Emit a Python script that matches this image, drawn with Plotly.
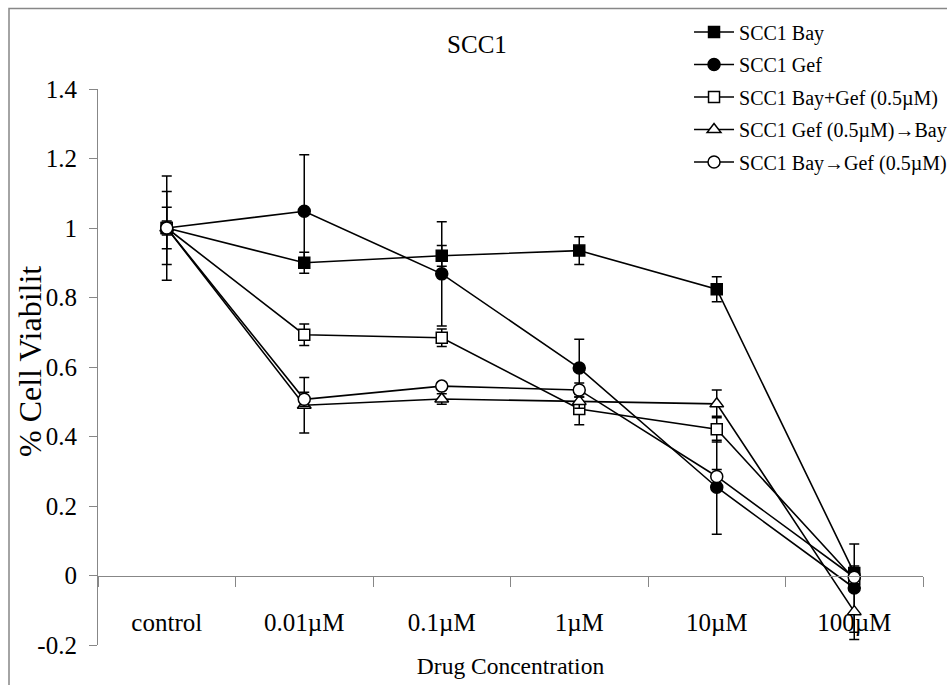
import plotly.graph_objects as go

categories = ["control", "0.01\u00b5M", "0.1\u00b5M", "1\u00b5M", "10\u00b5M", "100\u00b5M"]

names = [
    "SCC1 Bay",
    "SCC1 Gef",
    "SCC1 Bay+Gef (0.5\u00b5M)",
    "SCC1 Gef (0.5\u00b5M)\u2192Bay",
    "SCC1 Bay\u2192Gef (0.5\u00b5M)",
]

bay = [1.0, 0.900, 0.920, 0.935, 0.824, 0.007]
bay_err = [0.06, 0.03, 0.03, 0.04, 0.036, 0.02]

gef = [1.0, 1.048, 0.868, 0.597, 0.254, -0.036]
gef_err = [0.15, 0.163, 0.15, 0.083, 0.135, 0.127]

bay_gef = [1.0, 0.693, 0.684, 0.479, 0.421, -0.010]
bay_gef_err = [0.105, 0.031, 0.025, 0.045, 0.037, 0.02]

gef_then_bay = [1.0, 0.490, 0.508, 0.501, 0.494, -0.104]
gef_then_bay_err = [0.02, 0.08, 0.015, 0.02, 0.04, 0.08]

bay_then_gef = [1.0, 0.507, 0.545, 0.534, 0.285, -0.005]
bay_then_gef_err = [0.01, 0.02, 0.01, 0.02, 0.02, 0.02]

y_ticks = [-0.2, 0, 0.2, 0.4, 0.6, 0.8, 1, 1.2, 1.4]
y_ticktext = ["-0.2", "0", "0.2", "0.4", "0.6", "0.8", "1", "1.2", "1.4"]

series = [
    (bay, bay_err, "square", "black", 11),
    (gef, gef_err, "circle", "black", 12),
    (bay_gef, bay_gef_err, "square", "white", 11),
    (gef_then_bay, gef_then_bay_err, "triangle-up", "white", 12),
    (bay_then_gef, bay_then_gef_err, "circle", "white", 12),
]

FONT = "Liberation Serif, Times New Roman, serif"
GRAY = "#878787"

fig = go.Figure()
for i, (vals, errs, sym, fill, size) in enumerate(series):
    fig.add_trace(go.Scatter(
        x=categories, y=vals, name=names[i],
        mode="lines+markers",
        line=dict(color="black", width=1.6),
        marker=dict(symbol=sym, size=size, color=fill,
                    line=dict(color="black", width=1.5)),
        error_y=dict(type="data", array=errs, visible=True,
                     color="black", thickness=1.5, width=5),
        legendgroup=f"g{i}",
    ))

# The original figure's frame runs past the right edge of the 947 px view,
# so the canvas is a little wider than the window (the overflow is hidden).
fig.update_layout(
    width=990, height=685,
    margin=dict(l=98, r=67, t=89, b=40),
    paper_bgcolor="white", plot_bgcolor="white",
    font=dict(family=FONT, size=25, color="black"),
    showlegend=True,
    title=dict(text="SCC1", x=(477 - 98) / 825, xref="paper", xanchor="center",
               y=1 - 44 / 685, yref="container", yanchor="middle",
               font=dict(family=FONT, size=25, color="black")),
    legend=dict(x=0.7164, y=1.1376, xanchor="left", yanchor="top",
                bgcolor="rgba(0,0,0,0)", font=dict(family=FONT, size=20),
                traceorder="grouped", tracegroupgap=3.5, itemwidth=40),
    xaxis=dict(
        type="category", range=[-0.5, 5.5],
        anchor="free", position=0.125,
        showline=True, linecolor=GRAY, linewidth=1.2,
        ticks="outside", ticklen=10, tickcolor=GRAY, tickwidth=1.2,
        tickson="boundaries", showgrid=False, zeroline=False,
        ticklabelstandoff=24,
        tickfont=dict(family=FONT, size=25),
        title=dict(text="Drug Concentration", standoff=22,
                   font=dict(family=FONT, size=23.5)),
    ),
    yaxis=dict(
        range=[-0.2, 1.4], tickvals=y_ticks, ticktext=y_ticktext,
        showline=True, linecolor=GRAY, linewidth=1.2,
        ticks="outside", ticklen=8, tickcolor=GRAY, tickwidth=1.2,
        showgrid=False, zeroline=False,
        ticklabelstandoff=7,
        tickfont=dict(family=FONT, size=25),
    ),
    annotations=[dict(text="% Cell Viabilit", textangle=-90,
                      xref="paper", yref="paper",
                      x=(30 - 98) / 825, y=(645 - 362) / 556,
                      xanchor="center", yanchor="middle", showarrow=False,
                      font=dict(family=FONT, size=32, color="black"))],
    shapes=[dict(type="rect", xref="paper", yref="paper",
                 x0=(9 - 98) / 825, x1=(985 - 98) / 825,
                 y0=(645 - 720) / 556, y1=(645 - 8.5) / 556,
                 line=dict(color=GRAY, width=1.5), fillcolor="rgba(0,0,0,0)",
                 layer="below")],
)

fig.write_html(
    "out.html",
    config={"displayModeBar": False},
    post_script="document.body.style.margin='0';document.body.style.overflow='hidden';",
)
